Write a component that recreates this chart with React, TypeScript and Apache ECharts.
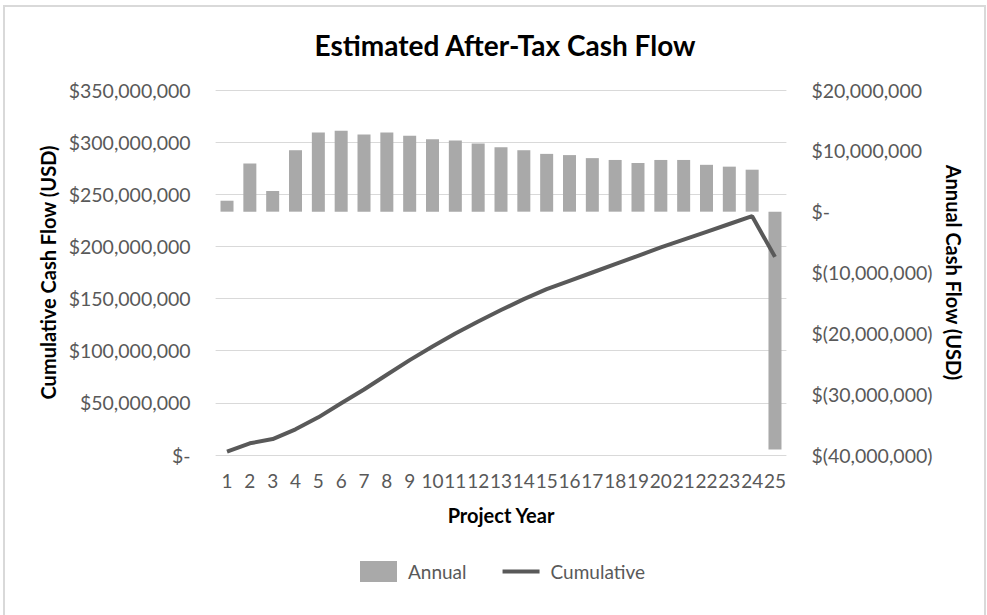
import React, { useEffect, useRef } from "react";
import * as echarts from "echarts";

const years = ["1","2","3","4","5","6","7","8","9","10","11","12","13","14","15","16","17","18","19","20","21","22","23","24","25"];
const annual = [1800000, 7900000, 3400000, 10100000, 13000000, 13300000, 12700000, 13000000, 12500000, 11900000, 11700000, 11200000, 10600000, 10100000, 9500000, 9300000, 8800000, 8500000, 8000000, 8500000, 8500000, 7700000, 7400000, 6900000, -39100000];
const cumulative = [3200000, 11200000, 15300000, 24600000, 36100000, 49600000, 62800000, 77000000, 91000000, 104000000, 116500000, 128000000, 139000000, 149500000, 159000000, 167000000, 175000000, 183000000, 191000000, 199000000, 206500000, 214000000, 221500000, 229000000, 190000000];

const FONT = "Lato, 'Open Sans', sans-serif";

function fmtLeft(v: number): string {
  if (v === 0) return "$-";
  return "$" + Math.abs(v).toLocaleString("en-US");
}
function fmtRight(v: number): string {
  if (v === 0) return "$-";
  if (v < 0) return "$(" + Math.abs(v).toLocaleString("en-US") + ")";
  return "$" + v.toLocaleString("en-US");
}

export default function App() {
  const ref = useRef<HTMLDivElement>(null);
  useEffect(() => {
    if (!ref.current) return;
    const chart = echarts.init(ref.current, null, { renderer: "svg" });
    chart.setOption({
      animation: false,
      backgroundColor: "#ffffff",
      textStyle: { fontFamily: FONT },
      title: {
        text: "Estimated After-Tax Cash Flow",
        left: 500,
        top: 26,
        textAlign: "center",
        textStyle: { fontFamily: FONT, fontSize: 28, fontWeight: "bold", color: "#000000" },
      },
      graphic: [
        {
          type: "rect",
          shape: { x: 4, y: 6, width: 981, height: 620 },
          style: { fill: "none", stroke: "#d9d9d9", lineWidth: 2 },
          silent: true,
          z: -1,
        },
      ],
      legend: {
        left: 355,
        top: 556,
        itemWidth: 37,
        itemHeight: 21,
        itemGap: 36,
        textStyle: { fontFamily: FONT, fontSize: 19, color: "#595959", padding: [0, 0, 0, 6] },
        data: [
          { name: "Annual", icon: "rect" },
          { name: "Cumulative", icon: "path://M0,0L38,0L38,4L0,4Z" },
        ],
      },
      grid: { left: 215.6, right: 200.6, top: 90, bottom: 160, containLabel: false },
      xAxis: {
        type: "category",
        data: years,
        name: "Project Year",
        nameLocation: "middle",
        nameGap: 50,
        nameTextStyle: { fontFamily: FONT, fontSize: 20, fontWeight: "bold", color: "#000000", verticalAlign: "top" },
        axisLine: { show: false },
        axisTick: { show: false },
        axisLabel: { interval: 0, margin: 16, fontFamily: FONT, fontSize: 19, color: "#595959" },
      },
      yAxis: [
        {
          type: "value",
          min: 0,
          max: 350000000,
          interval: 50000000,
          name: "Cumulative Cash Flow (USD)",
          nameLocation: "middle",
          nameGap: 158,
          nameTextStyle: { fontFamily: FONT, fontSize: 20, fontWeight: "bold", color: "#000000" },
          axisLine: { show: false },
          axisTick: { show: false },
          splitLine: { show: true, lineStyle: { color: "#d9d9d9", width: 1 } },
          axisLabel: { margin: 25, formatter: fmtLeft, fontFamily: FONT, fontSize: 19.5, color: "#595959" },
        },
        {
          type: "value",
          min: -40000000,
          max: 20000000,
          interval: 10000000,
          position: "right",
          name: "Annual Cash Flow (USD)",
          nameLocation: "middle",
          nameGap: 158,
          nameRotate: -90,
          nameTextStyle: { fontFamily: FONT, fontSize: 20, fontWeight: "bold", color: "#000000" },
          axisLine: { show: false },
          axisTick: { show: false },
          splitLine: { show: false },
          axisLabel: { margin: 25, formatter: fmtRight, fontFamily: FONT, fontSize: 19.5, color: "#595959" },
        },
      ],
      series: [
        {
          name: "Annual",
          type: "bar",
          yAxisIndex: 1,
          data: annual,
          barWidth: 13,
          itemStyle: { color: "#a9a9a9" },
          z: 2,
        },
        {
          name: "Cumulative",
          type: "line",
          yAxisIndex: 0,
          data: cumulative,
          symbol: "none",
          lineStyle: { color: "#595959", width: 4 },
          itemStyle: { color: "#595959" },
          z: 3,
        },
      ],
    });
    return () => chart.dispose();
  }, []);
  return <div ref={ref} style={{ position: "absolute", left: 0, top: 0, width: 987, height: 615 }} />;
}
